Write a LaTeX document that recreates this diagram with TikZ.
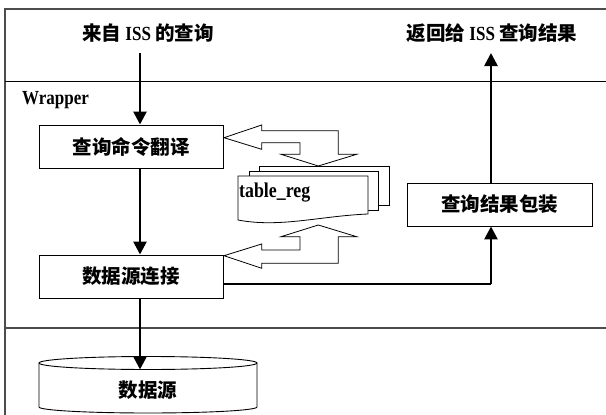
\documentclass[tikz,border=0pt]{standalone}
\usepackage{fontspec}
\setmainfont{Liberation Serif}[FakeStretch=0.85]
\newfontfamily\cjk{Noto Sans CJK SC}[Scale=0.975]
\usetikzlibrary{arrows.meta}
\newcommand{\zh}[1]{{\cjk\bfseries #1}}
\begin{document}
\begin{tikzpicture}[x=1pt,y=-1pt,
  every node/.style={font=\fontsize{20}{22}\selectfont\bfseries, inner sep=0pt},
  procbox/.style={draw, line width=0.9pt, fill=white, minimum width=184pt, minimum height=43pt},
  flow/.style={line width=2.6pt, -{Triangle[length=13pt,width=13pt]}},
  thinflow/.style={line width=1.2pt},
  blockarrow/.style={draw, line width=0.8pt, fill=white, line join=miter},
  framegray/.style={draw=black!70, line width=1.3pt},
  page/.style={draw, line width=0.8pt, fill=white}]
\useasboundingbox (0,0) rectangle (606,415);
\clip (0,0) rectangle (606,415);
\fill[white] (0,0) rectangle (606,415);
% frames
\draw[framegray] (5,420) -- (5,9) -- (620,9);
\draw[line width=1pt] (5,81) -- (620,81);
\draw[framegray] (5,328) -- (620,328);
% nodes
\node (in) at (148,33) {\zh{来自} ISS \zh{的查询}};
\node (out) at (492,33) {\zh{返回给} ISS \zh{查询结果}};
\node[anchor=west] (wr) at (22,100) {Wrapper};
\node[procbox] (trans) at (131,146.5) {\zh{查询命令翻译}};
\node[procbox] (conn) at (131,276.5) {\zh{数据源连接}};
\node[procbox, minimum width=185pt] (wrap) at (499.5,204.5) {\zh{查询结果包装}};
% block arrows
\draw[blockarrow] (224,137.7) -- (261.7,125) -- (261.7,130.7) -- (338.3,130.7) -- (338.3,154.3) -- (356.7,154.3) -- (318.3,166) -- (281,154.3) -- (300,154.3) -- (300,142.7) -- (261.7,142.7) -- (261.7,149.3) -- cycle;
\draw[blockarrow] (224,255.7) -- (261.7,244) -- (261.7,250) -- (300,250) -- (300,236.7) -- (281,236.7) -- (318.3,225) -- (356.7,236.7) -- (338.3,236.7) -- (338.3,263.3) -- (261.7,263.3) -- (261.7,268.3) -- cycle;
% stacked pages
\draw[page] (259,166) rectangle (389,205);
\draw[page] (249,171) rectangle (378,210);
\draw[page] (238,176) -- (368,176) -- (368,214) .. controls (320,216) and (280,228) .. (238,220) -- cycle;
\node[anchor=west, font=\fontsize{21}{22}\selectfont\bfseries] (treg) at (239,193) {table\_reg};
% cylinder
\draw[line width=0.9pt, fill=white] (39,363) -- (39,407) arc[start angle=180, end angle=0, x radius=109, y radius=6] -- (257,363);
\draw[line width=0.9pt] (148,363) ellipse [x radius=109, y radius=6.5];
\node (ds) at (148,390) {\zh{数据源}};
% connectors
\coordinate (inS) at (140,53);
\coordinate (outS) at (491,53);
\coordinate (cylTop) at (140,369.5);
\coordinate (corner) at (491,284);
\draw[flow] (inS) -- (inS |- trans.north);
\draw[flow] (inS |- trans.south) -- (inS |- conn.north);
\draw[flow] (inS |- conn.south) -- (cylTop);
\draw[flow] (outS |- wrap.north) -- (outS);
\draw[thinflow] (conn.east |- corner) -- (corner);
\draw[flow] (corner) -- (corner |- wrap.south);
\end{tikzpicture}
\end{document}
